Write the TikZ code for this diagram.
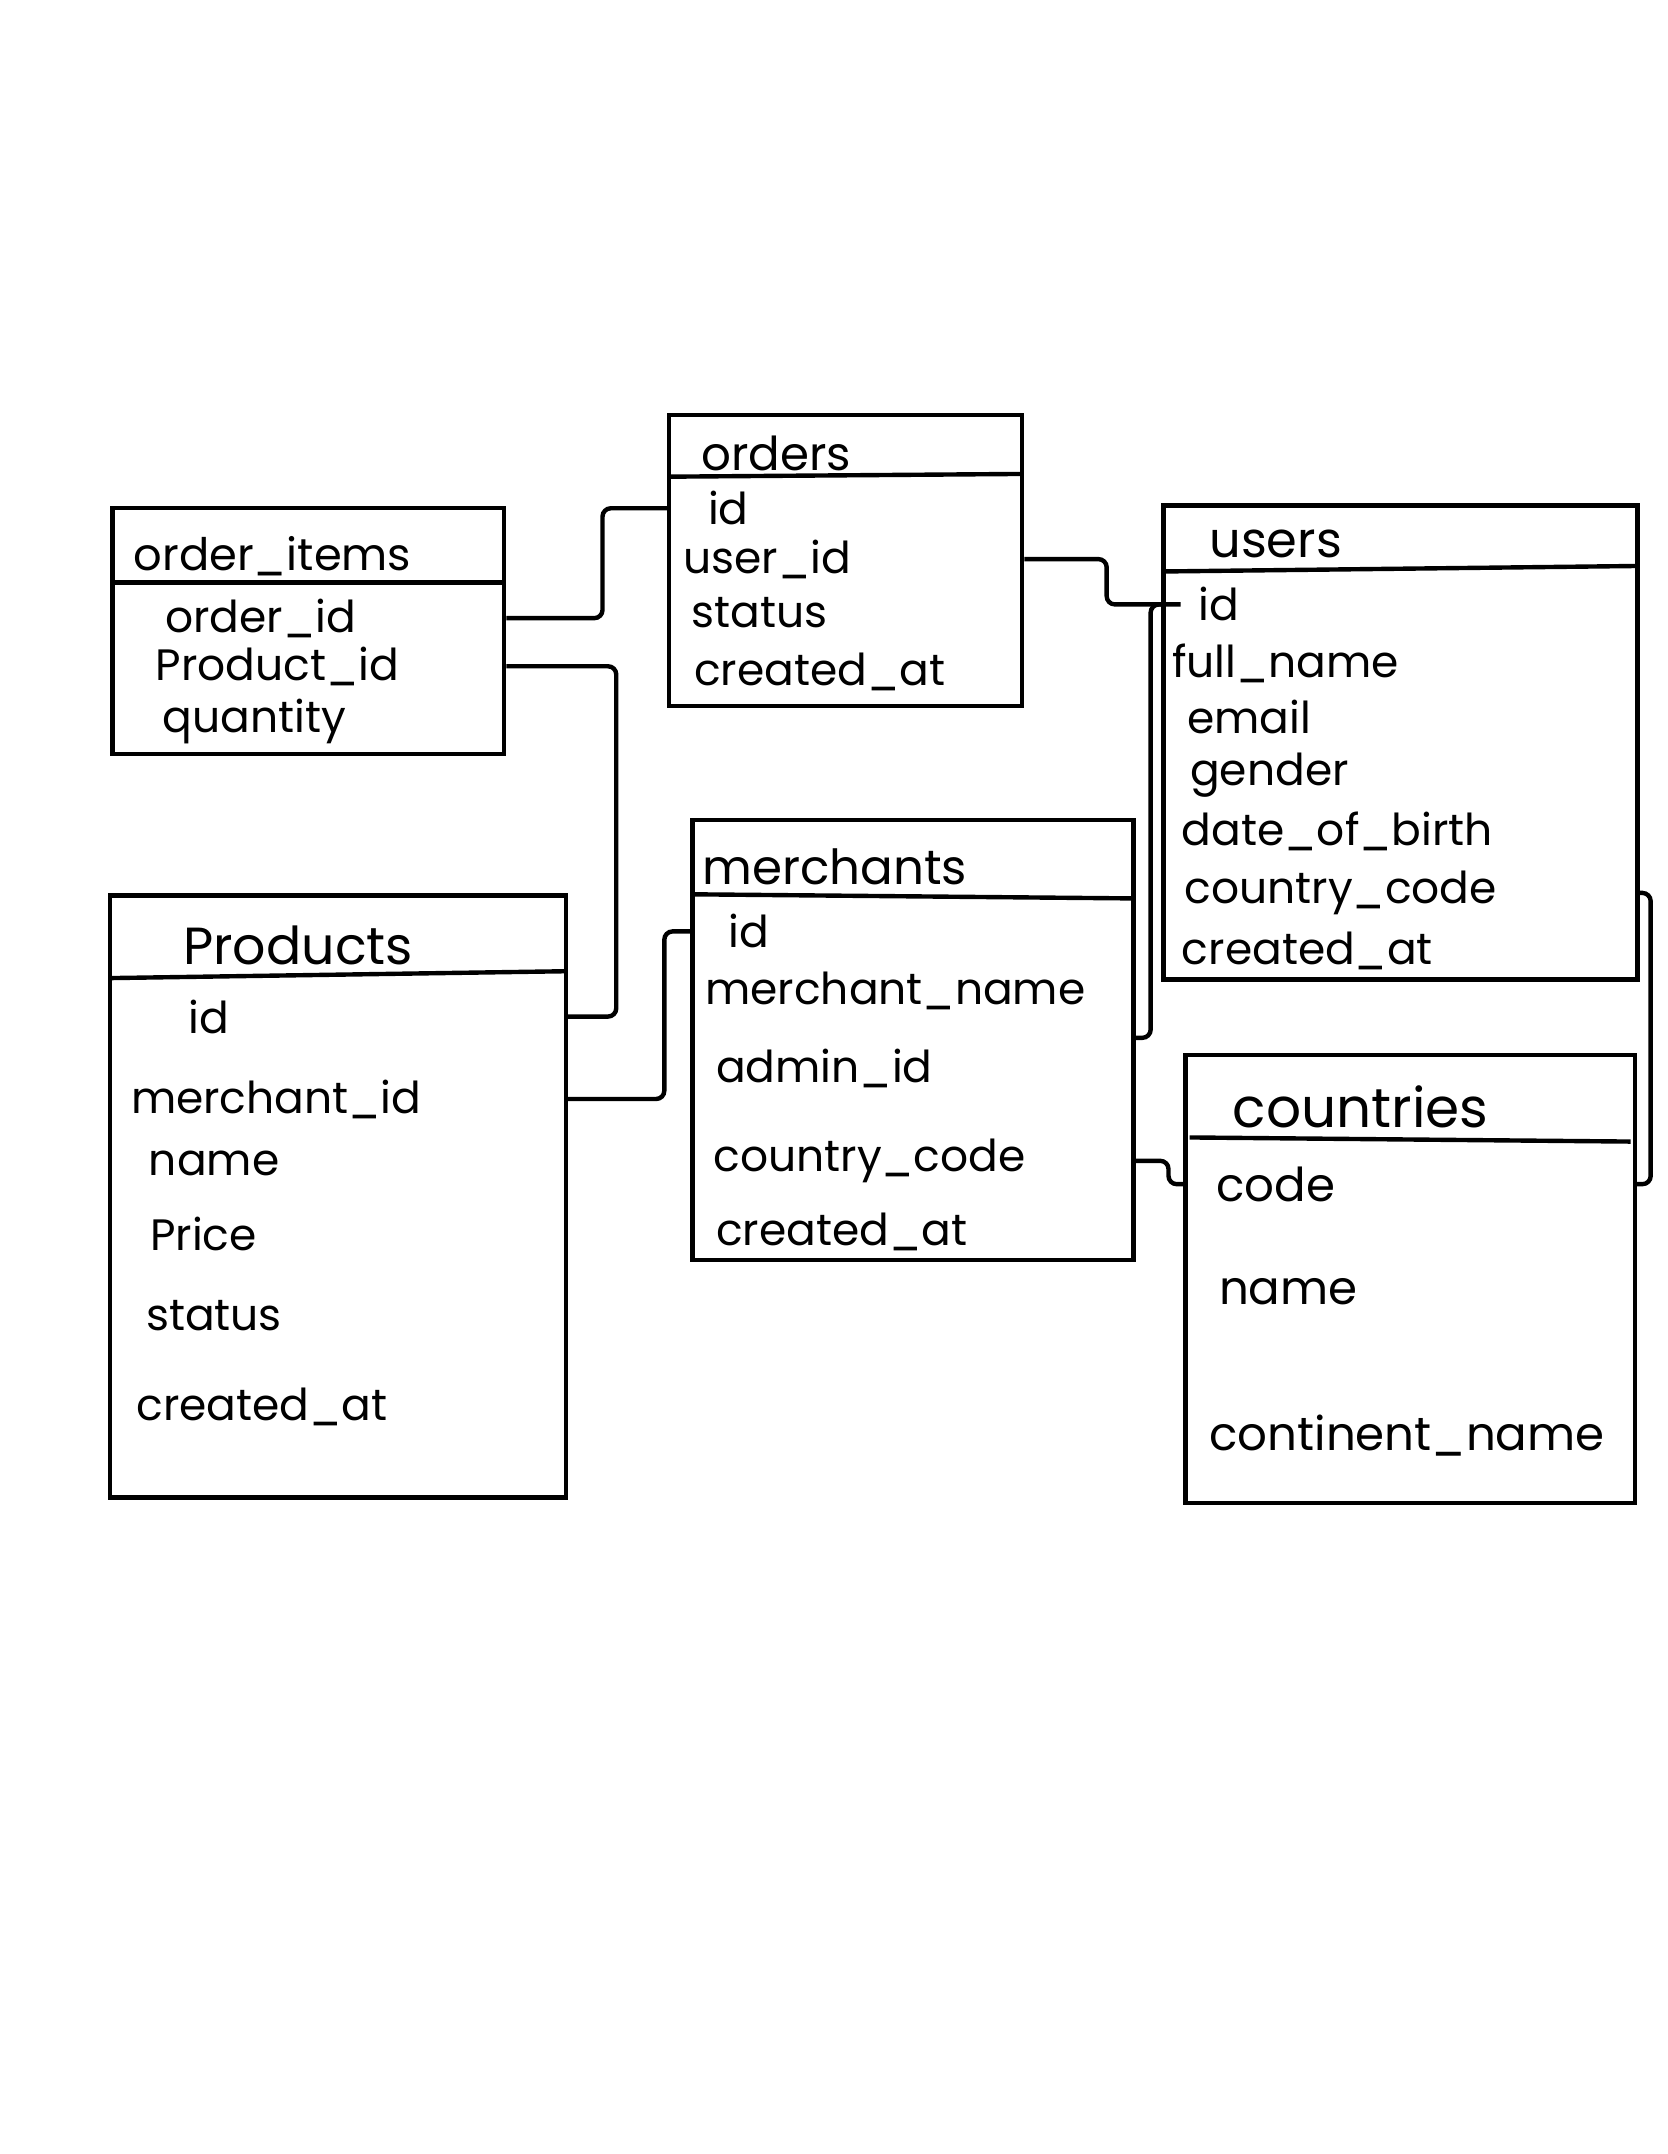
\documentclass[tikz,border=0pt]{standalone}
\usepackage{fontspec}
\setmainfont{Poppins}
\usetikzlibrary{positioning, fit, calc}

\tikzset{
  tablebox/.style={draw, line width=1.6pt, inner sep=0pt},
  rule/.style={line width=1.6pt},
  field/.style={anchor=west, inner sep=0pt, font=\fontsize{16}{18}\selectfont},
  bigfield/.style={field, font=\fontsize{17}{19}\selectfont},
  tabletitle/.style={field, font=\fontsize{#1}{#1}\selectfont},
  tabletitle/.default=17,
  conn/.style={line width=1.6pt, rounded corners=3pt},
}

\begin{document}
\begin{tikzpicture}[x=0.5pt, y=-0.5pt]
  % Page
  \fill[white] (0,0) rectangle (1214,1568);
  \useasboundingbox (0,0) rectangle (1214,1568);

  % Tables
  \node[tablebox, fit={(487,302) (744,514)}] (orders) {};
  \node[tablebox, fit={(82,370) (367,549)}] (oitems) {};
  \node[tablebox, fit={(847,368) (1192,713)}] (users) {};
  \node[tablebox, fit={(80,652) (412,1090)}] (products) {};
  \node[tablebox, fit={(504,597) (825,917)}] (merchants) {};
  \node[tablebox, fit={(863,768) (1190,1094)}] (countries) {};

  % Header lines
  \draw[rule] (487,347) -- (744,345);
  \draw[rule] (82,424) -- (367,424);
  \draw[rule] (847,416) -- (1192,412);
  \draw[rule] (80,712) -- (412,707);
  \draw[rule] (504,651) -- (825,654);
  \draw[rule] (866,828) -- (1187,831);

  % orders
  \node[tabletitle] (ord-title) at (510,330) {orders};
  \node[field] (ord-id) at (515,370) {id};
  \node[field] (ord-userid) at (497,407) {user\_id};
  \node[field] (ord-status) at (503,446) {status};
  \node[field] (ord-created) at (505,489) {created\_at};

  % order_items
  \node[tabletitle=16.3] (oi-title) at (97,405) {order\_items};
  \node[field] (oi-orderid) at (120,450) {order\_id};
  \node[field] (oi-prodid) at (113,485) {Product\_id};
  \node[field] (oi-qty) at (118,525) {quantity};

  % users
  \node[tabletitle=18] (us-title) at (880,396) {users};
  \node[field] (us-id) at (872,440) {id};
  \node[field] (us-name) at (853,483) {full\_name};
  \node[field] (us-email) at (864,522) {email};
  \node[field] (us-gender) at (866,564) {gender};
  \node[field] (us-dob) at (860,605) {date\_of\_birth};
  \node[field] (us-country) at (862,650) {country\_code};
  \node[field] (us-created) at (860,692) {created\_at};

  % Products
  \node[tabletitle=19] (pr-title) at (133,688) {Products};
  \node[field] (pr-id) at (137,740) {id};
  \node[field] (pr-merchid) at (95,800) {merchant\_id};
  \node[field] (pr-name) at (108,847) {name};
  \node[field] (pr-price) at (109,898) {Price};
  \node[field] (pr-status) at (106,958) {status};
  \node[field] (pr-created) at (99,1024) {created\_at};

  % merchants
  \node[tabletitle=17.6] (mer-title) at (511,631) {merchants};
  \node[field] (mer-id) at (530,678) {id};
  \node[field] (mer-name) at (513,721) {merchant\_name};
  \node[field] (mer-admin) at (521,778) {admin\_id};
  \node[field] (mer-country) at (519,845) {country\_code};
  \node[field] (mer-created) at (521,897) {created\_at};

  % countries
  \node[tabletitle=20] (co-title) at (897,806) {countries};
  \node[bigfield] (co-code) at (885,862) {code};
  \node[bigfield] (co-name) at (887,940) {name};
  \node[bigfield] (co-continent) at (880,1045) {continent\_name};

  % Connectors
  \draw[conn] (oitems.east |- oi-orderid) -- ++(70,0) |- (orders.west |- ord-id);
  \draw[conn] (oitems.east |- oi-prodid) -- ++(80,0) |- (products.east |- pr-id);
  \draw[conn] (orders.east |- ord-userid) -- ++(60,0) |- ($(users.west |- us-id)+(14,0)$);
  \draw[conn] ($(merchants.east |- mer-admin.north)+(0,-8)$) -- ++(11,0) |- (users.west |- us-id);
  \draw[conn] (products.east |- pr-merchid) -- ++(70,0) |- (merchants.west |- mer-id);
  \draw[conn] (merchants.east |- mer-country) -- ++(24,0) |- (countries.west |- co-code);
  \draw[conn] (users.east |- us-country) -- ++(8,0) |- (countries.east |- co-code);
\end{tikzpicture}
\end{document}
